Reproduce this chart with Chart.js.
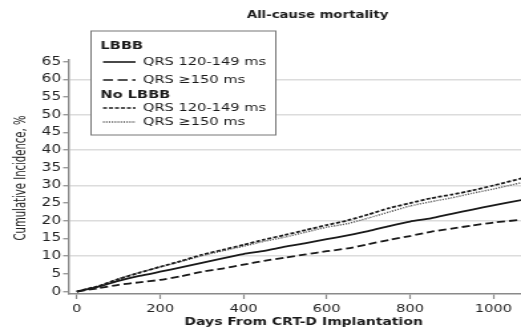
<!DOCTYPE html>
<html>
<head>
<meta charset="utf-8">
<script src="https://cdn.jsdelivr.net/npm/chart.js@4.4.1/dist/chart.umd.min.js"></script>
<style>
  html, body { margin: 0; padding: 0; background: #fff; }
  #wrap { width: 521px; height: 330px; position: relative; }
</style>
</head>
<body>
<div id="wrap">
  <!-- drawn narrow and widened by CSS so the lettering comes out wide -->
  <canvas id="chart" width="392" height="330" style="width:521px;height:330px;display:block"></canvas>
</div>
<script>
const days = [0, 50, 100, 150, 200, 250, 300, 350, 400, 450, 500, 550, 600, 650, 700, 750, 800, 850, 900, 950, 1000, 1068];

// cumulative incidence, %
const lbbbNarrow = [0, 1.3, 3.0, 4.4, 5.6, 6.8, 8.1, 9.4, 10.6, 11.5, 12.7, 13.7, 14.8, 15.9, 17.1, 18.5, 19.8, 20.7, 22.0, 23.2, 24.4, 25.9];
const lbbbWide = [0, 0.9, 1.9, 2.6, 3.3, 4.3, 5.6, 6.5, 7.6, 8.7, 9.6, 10.5, 11.4, 12.2, 13.4, 14.6, 15.7, 16.9, 17.8, 18.7, 19.5, 20.3];
const noLbbbNarrow = [0, 1.5, 3.5, 5.3, 7.0, 8.6, 10.4, 11.8, 13.2, 14.7, 16.0, 17.4, 18.8, 20.1, 21.8, 23.6, 25.0, 26.4, 27.4, 28.6, 30.0, 32.0];
const noLbbbWide = [0, 1.4, 3.6, 5.4, 6.9, 8.5, 10.1, 11.5, 12.8, 14.2, 15.4, 16.8, 18.2, 19.2, 20.8, 22.5, 24.2, 25.4, 26.5, 27.8, 29.0, 30.8];

const yTicks = [0, 5, 10, 15, 20, 25, 30, 35, 40, 45, 50, 55, 60, 65];
const xTicks = [0, 200, 400, 600, 800, 1000];

const FONT = "'DejaVu Sans', sans-serif";
const AXIS = "#8a8a8a";
const INK = "#1a1a1a";

const pts = (ys) => days.map((d, i) => ({ x: d, y: ys[i] }));

const legendItems = [
  { head: "LBBB" },
  { label: "QRS 120-149 ms", dash: [], width: 1.6, color: INK },
  { label: "QRS \u2265150 ms", dash: [7.5, 3.5], width: 1.6, color: INK },
  { head: "No LBBB" },
  { label: "QRS 120-149 ms", dash: [3, 1.5], width: 1.6, color: INK },
  { label: "QRS \u2265150 ms", dash: [1.1, 1.1], width: 1.3, color: "#555" },
];

// titles, boxed legend and rotated y title are painted by hand
const decorations = {
  id: "decorations",
  afterDraw(chart) {
    const c = chart.ctx;
    c.save();
    c.fillStyle = INK;
    c.font = "bold 10px " + FONT;
    c.textAlign = "center";
    c.textBaseline = "middle";
    c.fillText("All-cause mortality", 239, 15);

    c.font = "bold 10.5px " + FONT;
    c.fillText("Days From CRT-D Implantation", 228.5, 322.5);

    // legend box
    c.fillStyle = "#fff";
    c.fillRect(68.5, 31, 139, 104);
    c.strokeStyle = "#777";
    c.lineWidth = 1;
    c.strokeRect(68.5, 31, 139, 104);

    const rows = [46, 62, 80, 95, 108, 122];
    legendItems.forEach((it, i) => {
      const y = rows[i];
      c.textAlign = "left";
      if (it.head) {
        c.fillStyle = INK;
        c.font = "bold 11px " + FONT;
        c.fillText(it.head, 75.5, y);
        return;
      }
      c.strokeStyle = it.color;
      c.lineWidth = it.width;
      c.setLineDash(it.dash);
      c.beginPath();
      c.moveTo(77.5, y);
      c.lineTo(102, y);
      c.stroke();
      c.setLineDash([]);
      c.fillStyle = INK;
      c.font = "11px " + FONT;
      c.fillText(it.label, 107.5, y);
    });

    // y title, squeezed to its run length
    const title = "Cumulative Incidence, %";
    c.font = "12px " + FONT;
    const w = c.measureText(title).width;
    c.translate(16, 178);
    c.rotate(-Math.PI / 2);
    c.scale(125 / w, 1);
    c.textAlign = "center";
    c.fillStyle = "#222";
    c.fillText(title, 0, 0);
    c.restore();
  }
};

new Chart(document.getElementById("chart"), {
  type: "line",
  data: {
    datasets: [
      { label: "LBBB QRS 120-149 ms", data: pts(lbbbNarrow), borderColor: INK, borderWidth: 1.8, borderDash: [] },
      { label: "LBBB QRS \u2265150 ms", data: pts(lbbbWide), borderColor: INK, borderWidth: 1.8, borderDash: [6, 3] },
      { label: "No LBBB QRS 120-149 ms", data: pts(noLbbbNarrow), borderColor: INK, borderWidth: 1.8, borderDash: [3, 1.5] },
      { label: "No LBBB QRS \u2265150 ms", data: pts(noLbbbWide), borderColor: "#555", borderWidth: 1.4, borderDash: [1.1, 1.1] },
    ],
  },
  options: {
    responsive: false,
    animation: false,
    events: [],
    elements: { point: { radius: 0 }, line: { tension: 0.2 } },
    layout: { padding: { top: 60, right: 0, left: 0, bottom: 0 } },
    plugins: { legend: { display: false }, tooltip: { enabled: false }, title: { display: false } },
    scales: {
      x: {
        type: "linear",
        min: -18.5,
        max: 1066.5,
        afterFit: (s) => { s.height = 36; },
        afterBuildTicks: (s) => { s.ticks = xTicks.map((v) => ({ value: v })); },
        border: { color: AXIS, width: 1.5 },
        grid: { drawOnChartArea: false, tickLength: 5, tickColor: AXIS, tickWidth: 1.2 },
        ticks: {
          color: "#222", font: { family: FONT, size: 11 }, padding: 4, maxRotation: 0,
          autoSkip: false, callback: (v) => String(v),
        },
      },
      y: {
        type: "linear",
        min: -0.7,
        max: 65.5,
        afterFit: (s) => { s.width = 52; },
        afterBuildTicks: (s) => { s.ticks = yTicks.map((v) => ({ value: v })); },
        border: { color: AXIS, width: 1.4 },
        grid: {
          color: (ctx) => (ctx.tick && ctx.tick.value > 0 && ctx.tick.value % 10 === 0 ? "#dcdcdc" : "rgba(0,0,0,0)"),
          lineWidth: 1.5,
          tickLength: 4.5,
          tickColor: AXIS,
          tickWidth: 1.2,
        },
        ticks: {
          color: "#222", font: { family: FONT, size: 11.5 }, padding: 1.5,
          autoSkip: false, callback: (v) => String(v),
        },
      },
    },
  },
  plugins: [decorations],
});
</script>
</body>
</html>
